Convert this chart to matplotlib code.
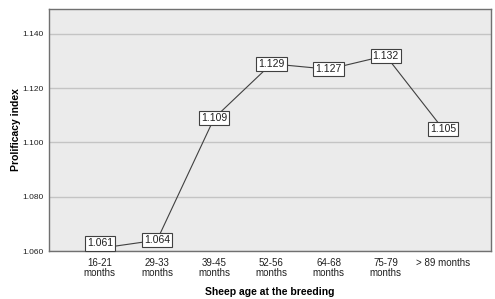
import numpy as np
import matplotlib
matplotlib.use('Agg')
import matplotlib.pyplot as plt

''' data
'''
ages = ['16-21\nmonths', '29-33\nmonths', '39-45\nmonths', '52-56\nmonths',
        '64-68\nmonths', '75-79\nmonths', '> 89 months']
prolificacy = [1.061, 1.064, 1.109, 1.129, 1.127, 1.132, 1.105]
yticks = [1.060, 1.080, 1.100, 1.120, 1.140]

plt.rcParams['font.family'] = ['Liberation Sans', 'DejaVu Sans']

fig = plt.figure(figsize=(4.95, 2.99), dpi=100)
ax = fig.add_axes([49/495, 1-251/299, 442/495, 242/299])
ax.set_facecolor('#ebebeb')
ymin, ymax = 1.060, 1.1492
ax.set_xlim(-0.89, 6.84)
ax.set_ylim(ymin, ymax)

x = np.arange(len(ages))
ax.plot(x, prolificacy, color='#404040', lw=0.8, zorder=3)
# value boxes, kept inside the plot area (like spss does)
px_per_unit = 242 / (ymax - ymin)
for xi, v in zip(x, prolificacy):
  dy = max(0, 7.5 - (v - ymin) * px_per_unit)
  ax.annotate('{:.3f}'.format(v), (xi, v), xytext=(0, dy * 0.72),
              textcoords='offset points', ha='center', va='center',
              fontsize=7.5, color='#202020', zorder=4,
              bbox=dict(boxstyle='square,pad=0.2', fc='white', ec='#404040', lw=0.8))

ax.set_yticks(yticks)
ax.set_yticklabels(['{:.3f}'.format(t) for t in yticks])
ax.set_xticks(x)
ax.set_xticklabels(ages, linespacing=0.95)
ax.tick_params(axis='both', length=0, labelsize=6, colors='#202020')
ax.tick_params(axis='y', pad=4)
ax.tick_params(axis='x', pad=5)
for t in ax.get_xticklabels():
  t.set_fontsize(7)
ax.grid(axis='y', color='#c4c4c4', lw=1)
ax.set_axisbelow(True)
for s in ax.spines.values():
  s.set_color('#707070')
  s.set_linewidth(1)

# axis titles placed in figure pixels
fig.text(16/495, 1-130/299, 'Prolificacy index', rotation=90, ha='center', va='center',
         fontsize=7.5, fontweight='bold')
fig.text(270/495, 1-292/299, 'Sheep age at the breeding', ha='center', va='center',
         fontsize=7.5, fontweight='bold')

plt.savefig('out.png', dpi=100)
